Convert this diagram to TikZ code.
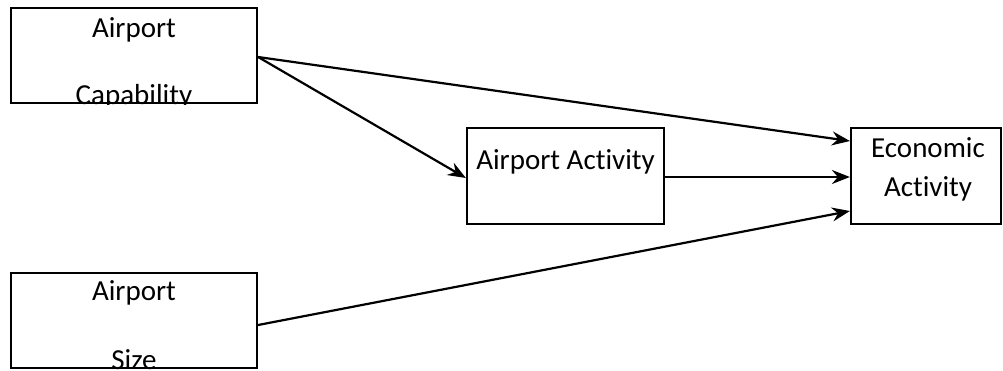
\documentclass[tikz,border=0pt]{standalone}
\usepackage{fontspec}
\setmainfont{Carlito}[Ligatures={NoCommon}]
\usetikzlibrary{arrows.meta,calc}
\tikzset{
  box/.style={draw,line width=2.2pt,inner sep=0pt,fill=none},
  lbl/.style={inner sep=0pt,font=\fontsize{29}{35}\selectfont,anchor=center},
  conn/.style={line width=2.2pt,-{Stealth[length=18pt,width=14pt,inset=6pt]}}
}
\begin{document}
\begin{tikzpicture}[x=1pt,y=-1pt]
\useasboundingbox (0,0) rectangle (1003,370);
% boxes
\node[box,minimum width=246pt,minimum height=95pt] (cap) at (134,55.5) {};
\node[box,minimum width=197pt,minimum height=96pt] (act) at (565.5,176) {};
\node[box,minimum width=150pt,minimum height=96pt] (eco) at (926,176) {};
\node[box,minimum width=246pt,minimum height=95pt] (size) at (134,320.5) {};
% texts (clipped by their boxes)
\begin{scope}
\clip (cap.south west) rectangle (cap.north east);
\node[lbl] (capA) at (134,30) {Airport};
\node[lbl] (capB) at (134,97) {Capability};
\end{scope}
\begin{scope}
\clip (size.south west) rectangle (size.north east);
\node[lbl] (sizeA) at (134,293) {Airport};
\node[lbl] (sizeB) at (134,360) {Size};
\end{scope}
\node[lbl] (actT) at (565.5,162) {Airport Activity};
\node[lbl] (ecoA) at (928,148) {Economic};
\node[lbl] (ecoB) at (928,189) {Activity};
% connectors
\coordinate (capOut) at ($(cap.east)+(0,1.5)$);
\coordinate (ecoIn1) at ($(eco.west)+(0,-35)$);
\coordinate (ecoIn2) at ($(eco.west)+(0,1)$);
\coordinate (ecoIn3) at ($(eco.west)+(0,35)$);
\coordinate (actIn) at ($(act.west)+(0,2)$);
\coordinate (actOut) at ($(act.east)+(0,1)$);
\coordinate (sizeOut) at ($(size.east)+(0,4.5)$);
\draw[conn] (capOut) -- (ecoIn1);
\draw[conn] (capOut) -- (actIn);
\draw[conn] (actOut) -- (ecoIn2);
\draw[conn] (sizeOut) -- (ecoIn3);
\end{tikzpicture}
\end{document}
